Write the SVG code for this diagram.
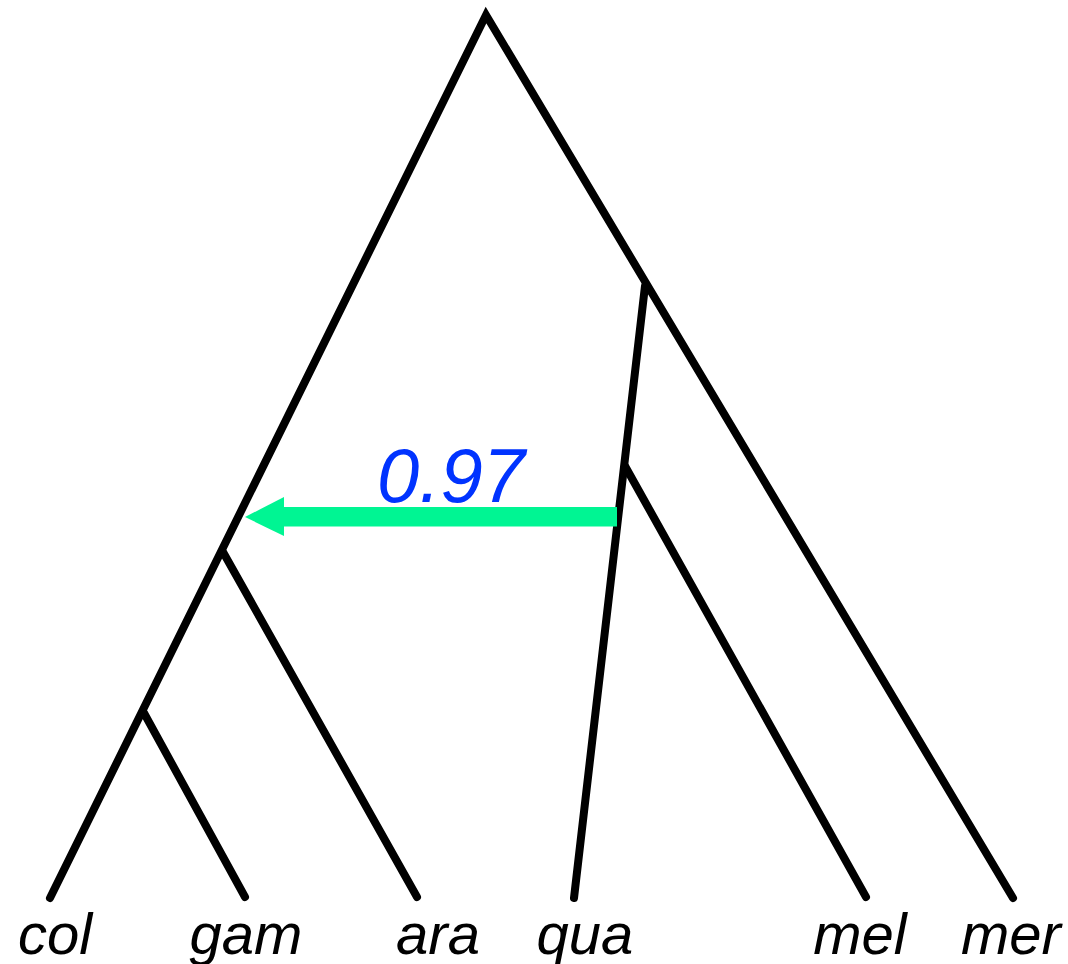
<svg xmlns="http://www.w3.org/2000/svg" width="1068" height="964" viewBox="0 0 1068 964">
<style>
.br{stroke:#000;stroke-width:8;stroke-linecap:round;stroke-linejoin:miter;fill:none}
.lab{font-family:"Liberation Sans",Arial,sans-serif;font-style:italic;font-size:58px;fill:#000;text-anchor:middle}
.val{font-family:"Liberation Sans",Arial,sans-serif;font-style:italic;font-size:76px;fill:#0033FF;text-anchor:middle}
</style>
<rect width="1068" height="964" fill="#fff"/>
<g id="connectors">
<path class="br" d="M50,898 L486,15 L1013,898"/>
<path class="br" d="M645,286 L574,898"/>
<path class="br" d="M625,466 L866,897"/>
<path class="br" d="M223,552 L417,897"/>
<path class="br" d="M144,713 L245,897"/>
<g id="migration">
<rect x="281" y="507" width="336" height="19.5" fill="#00F593"/>
<polygon points="245,517 284,497 284,536" fill="#00F593"/>
</g>
</g>
<g id="label-value"><text class="val" x="451" y="502">0.97</text></g>
<g id="leaf-col"><text class="lab" x="55" y="954">col</text></g>
<g id="leaf-gam"><text class="lab" x="246" y="954">gam</text></g>
<g id="leaf-ara"><text class="lab" x="438" y="954">ara</text></g>
<g id="leaf-qua"><text class="lab" x="585" y="954">qua</text></g>
<g id="leaf-mel"><text class="lab" x="860" y="954">mel</text></g>
<g id="leaf-mer"><text class="lab" x="1011" y="954">mer</text></g>
</svg>
